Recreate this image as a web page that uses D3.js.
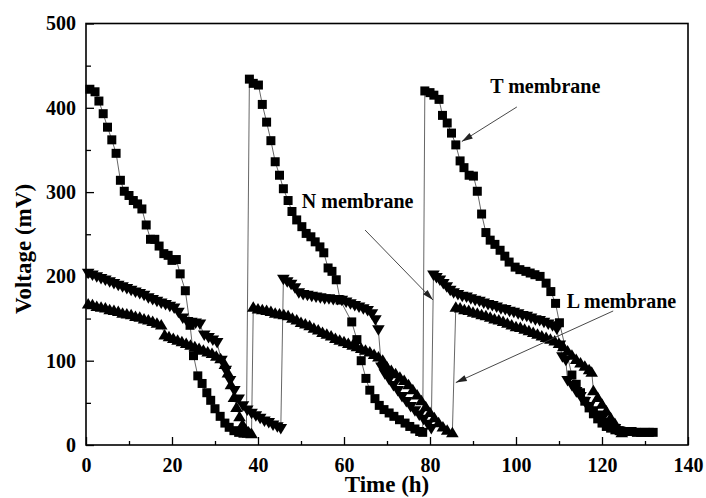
<!DOCTYPE html>
<html>
<head>
<meta charset="utf-8">
<script src="https://cdnjs.cloudflare.com/ajax/libs/d3/7.8.5/d3.min.js"></script>
<style>
  body { margin: 0; background: #fff; }
  svg { display: block; }
  text { font-family: "Liberation Serif", "Times New Roman", serif; font-weight: bold; fill: #000; }
</style>
</head>
<body>
<svg id="chart" width="706" height="498"></svg>
<script>
'use strict';

// T membrane (squares)
var tTime = [0.9, 2.1, 3.0, 4.0, 5.0, 6.0, 7.0, 8.0, 8.9, 10.0, 11.0, 12.0, 13.0, 14.0, 15.0, 16.0, 17.0, 18.1, 19.1, 20.0,
  21.0, 21.9, 23.1, 24.2, 25.0, 26.0, 27.0, 28.1, 29.0, 30.0, 31.2, 32.3, 33.3, 34.4, 35.5, 36.5, 37.3,
  38.0, 38.9, 40.1, 41.0, 42.0, 43.0, 44.0, 45.0, 45.9, 47.0, 47.9, 49.0, 50.2, 51.2, 52.3, 53.3, 54.4, 55.3,
  56.3, 57.2, 58.2, 59.1, 61.8, 63.0, 64.0, 65.1, 66.0, 67.2, 68.2, 69.3, 70.5, 71.6, 72.9, 74.2, 75.3, 76.5, 77.6, 78.3,
  78.8, 80.0, 80.9, 82.1, 82.9, 84.0, 85.0, 86.0, 87.0, 87.9, 89.1, 90.1, 91.0, 92.0, 93.0, 94.0, 95.1, 96.3, 97.4, 98.4,
  99.8, 100.9, 102.3, 103.3, 104.4, 105.6, 107.0, 108.1, 109.2, 110.1, 113.0, 114.0, 115.0, 116.0, 117.0, 118.0, 119.0,
  120.0, 121.0, 122.0, 123.0, 124.0, 125.0, 126.0, 127.0, 128.0, 129.0, 130.0, 131.0, 131.9];
var tVolt = [422, 419, 408, 393, 377, 362, 346, 314, 301, 296, 290, 286, 280, 261, 244, 244, 236, 227, 225, 219,
  220, 203, 183, 142, 106, 82, 73, 62, 53, 43, 34, 26, 21, 17, 15, 14, 14,
  434, 429, 427, 404, 383, 361, 336, 320, 304, 290, 277, 267, 259, 251, 247, 241, 235, 228,
  210, 206, 196, 172, 146, 125, 100, 79, 65, 55, 47, 42, 38, 34, 30, 26, 22, 19, 16, 15,
  420, 418, 415, 410, 391, 382, 370, 356, 337, 329, 320, 319, 301, 274, 252, 243, 238, 231, 224, 217,
  211, 208, 206, 204, 202, 200, 192, 182, 168, 145, 83, 72, 62, 52, 44, 37, 31,
  26, 22, 20, 18, 17, 16, 16, 16, 15, 15, 15, 15, 15];

// N membrane (down triangles)
var nTime = [0.5, 1.5, 2.5, 3.5, 4.5, 5.5, 6.5, 7.5, 8.5, 9.5, 10.5, 11.5, 12.5, 13.5, 14.5, 15.5, 16.5, 17.5, 18.5, 19.5,
  20.5, 21.5, 22.5, 23.5, 24.5, 25.5, 26.5, 27.5, 28.5, 29.5, 30.5, 31.5, 32.5, 33.5, 34.5, 35.5, 36.5, 37.5, 38.5, 39.5,
  40.5, 41.5, 42.5, 43.5, 44.5, 45.3,
  45.9, 46.8, 47.7, 48.6, 49.5, 50.5, 51.5, 52.5, 53.5, 54.5, 55.5, 56.5, 57.5, 58.5, 59.5, 60.5, 61.5, 62.5, 63.5, 64.5,
  65.5, 66.5, 67.3, 68.0, 68.7, 69.5, 70.5, 71.5, 72.5, 73.5, 74.5, 75.5, 76.5, 77.5, 78.5, 79.5, 80.3,
  80.8, 81.5, 82.3, 83.1, 83.9, 84.7, 85.5, 86.5, 87.5, 88.5, 89.5, 90.5, 91.5, 92.5, 93.5, 94.5, 95.5, 96.5, 97.5, 98.5,
  99.5, 100.5, 101.5, 102.5, 103.5, 104.5, 105.5, 106.5, 107.5, 108.5, 109.5, 110.2, 110.8, 111.6, 112.0, 113.0, 114.0,
  115.0, 116.0, 117.0, 118.0, 119.0, 120.0, 121.0, 122.0, 123.0, 124.0];
var nVolt = [203, 201, 199, 197, 195, 193, 191, 189, 187, 185, 183, 181, 179, 177, 174, 172, 170, 168, 166, 164,
  162, 157, 150, 146, 145, 144, 143, 130, 127, 124, 121, 100, 88, 76, 64, 54, 46, 41, 37, 34,
  31, 28, 26, 23, 21, 19,
  196, 193, 190, 186, 180, 178, 177, 176, 175, 174, 173, 173, 172, 172, 171, 169, 167, 165, 163, 161,
  159, 155, 148, 136, 92, 84, 77, 70, 64, 57, 51, 45, 40, 35, 30, 24, 19,
  201, 198, 195, 191, 187, 183, 180, 178, 176, 175, 173, 171, 170, 168, 166, 165, 163, 161, 160, 158,
  157, 155, 153, 152, 150, 148, 147, 145, 143, 141, 137, 118, 104, 100, 76, 70, 63,
  57, 51, 45, 40, 35, 30, 26, 22, 19, 16];

// L membrane (up triangles)
var lTime = [0.5, 1.5, 2.5, 3.5, 4.5, 5.5, 6.5, 7.5, 8.5, 9.5, 10.5, 11.5, 12.5, 13.5, 14.5, 15.5, 16.5, 17.5, 18.3, 19.3,
  20.3, 21.3, 22.3, 23.3, 24.3, 25.3, 26.3, 27.3, 28.3, 29.3, 30.3, 31.3, 32.3, 33.0, 33.7, 34.4, 35.0, 35.7, 36.4, 37.1,
  37.8, 38.5,
  38.9, 40, 41, 42, 43, 44, 45, 46, 47, 48, 49, 50, 51, 52, 53, 54, 55, 56, 57, 58, 59, 60, 61, 62, 63, 64, 65, 66, 67,
  68, 69, 70, 71, 72, 73, 74, 75, 76, 77, 78, 79, 80, 81, 82, 83, 84, 85.2,
  86, 87, 88, 89, 90, 91, 92, 93, 94, 95, 96, 97, 98, 99, 100, 101, 102, 103, 104, 105, 106, 107, 108, 109, 110, 111,
  112, 113, 114, 115, 116, 117, 117.6, 118, 119, 120, 121, 122, 123, 124, 124.6];
var lVolt = [168, 167, 165, 164, 163, 161, 160, 159, 157, 156, 155, 153, 152, 150, 149, 147, 145, 143, 131, 129,
  127, 125, 123, 121, 119, 117, 115, 113, 111, 109, 106, 103, 96, 86, 72, 57, 45, 34, 25, 19,
  16, 14,
  164, 162, 161, 160, 159, 157, 156, 155, 154, 151, 149, 146, 144, 142, 139, 137, 134, 132, 130, 127, 125, 123, 121, 119, 117,
  115, 113, 111, 108, 105, 101, 93, 89, 85, 81, 77, 72, 66, 60, 53, 46, 39, 33, 27, 22, 18, 15,
  164, 163, 161, 160, 158, 157, 155, 154, 152, 150, 149, 147, 145, 143, 141, 140, 138, 136, 134, 132, 130, 128, 126, 124,
  121, 117, 112, 107, 102, 98, 94, 90, 87, 65, 57, 49, 41, 33, 26, 19, 15];

var xTicks = [0, 20, 40, 60, 80, 100, 120, 140];
var yTicks = [0, 100, 200, 300, 400, 500];

var labelNames = ['T membrane', 'N membrane', 'L membrane'];
var labelTime = [94.0, 50.2, 111.8];
var labelVolt = [417, 281, 162];
var arrowFromTime = [100.2, 64.9, 122.6];
var arrowFromVolt = [401, 255, 159];
var arrowToTime = [87.4, 80.7, 86.0];
var arrowToVolt = [360, 172, 74];

var margin = { top: 23.5, right: 18, bottom: 53, left: 86 };
var width = 706 - margin.left - margin.right;
var height = 498 - margin.top - margin.bottom;

var svg = d3.select('#chart');
var g = svg.append('g')
  .attr('transform', 'translate(' + margin.left + ',' + margin.top + ')');

var x = d3.scaleLinear().domain([0, 140]).range([0, width]);
var y = d3.scaleLinear().domain([0, 500]).range([height, 0]);

// arrowhead
svg.append('defs').append('marker')
  .attr('id', 'arrowHead')
  .attr('markerUnits', 'userSpaceOnUse')
  .attr('viewBox', '-12 -5 14 10')
  .attr('markerWidth', 14)
  .attr('markerHeight', 10)
  .attr('refX', 0)
  .attr('refY', 0)
  .attr('orient', 'auto')
  .append('path')
  .attr('d', 'M0,0L-11,-3.2L-11,3.2Z')
  .attr('fill', '#222');

// minor + major ticks, pointing inward
var minorX = g.append('g').attr('transform', 'translate(0,' + height + ')')
  .call(d3.axisBottom(x).tickValues(d3.range(10, 140, 20)).tickSize(-4).tickFormat(''));
var minorY = g.append('g')
  .call(d3.axisLeft(y).tickValues(d3.range(50, 500, 100)).tickSize(-5).tickFormat(''));

var xAxis = g.append('g').attr('transform', 'translate(0,' + height + ')')
  .call(d3.axisBottom(x).tickValues(xTicks).tickSize(-8).tickPadding(13));
var yAxis = g.append('g')
  .call(d3.axisLeft(y).tickValues(yTicks).tickSize(-8).tickPadding(10));

[minorX, minorY, xAxis, yAxis].forEach(function(a) {
  a.select('.domain').remove();
  a.selectAll('line').attr('stroke', '#000').attr('stroke-width', 1.3);
});
[xAxis, yAxis].forEach(function(a) {
  a.selectAll('text')
    .style('font-family', '"Liberation Serif", "Times New Roman", serif')
    .style('font-weight', 'bold')
    .style('font-size', '20px')
    .attr('fill', '#000');
});

// frame
g.append('rect')
  .attr('x', 0).attr('y', 0)
  .attr('width', width).attr('height', height)
  .attr('fill', 'none')
  .attr('stroke', '#000')
  .attr('stroke-width', 1.6);

// series
var series = [
  { name: 'T', time: tTime, volt: tVolt, shape: 'M-4.5,-4.5h9v9h-9Z' },
  { name: 'N', time: nTime, volt: nVolt, shape: 'M0,5.5L6.3,-5L-6.3,-5Z' },
  { name: 'L', time: lTime, volt: lVolt, shape: 'M0,-5.5L6.3,5L-6.3,5Z' }
];

var line = d3.line()
  .x(function(d) { return x(d[0]); })
  .y(function(d) { return y(d[1]); });

series.forEach(function(s) {
  s.points = s.time.map(function(t, i) { return [t, s.volt[i]]; });
  g.append('path')
    .datum(s.points)
    .attr('d', line)
    .attr('fill', 'none')
    .attr('stroke', '#555')
    .attr('stroke-width', 0.9);
});

series.forEach(function(s) {
  g.append('g')
    .selectAll('path')
    .data(s.points)
    .enter()
    .append('path')
    .attr('d', s.shape)
    .attr('transform', function(d) { return 'translate(' + x(d[0]) + ',' + y(d[1]) + ')'; })
    .attr('fill', '#000');
});

// annotations
labelNames.forEach(function(name, i) {
  g.append('line')
    .attr('x1', x(arrowFromTime[i])).attr('y1', y(arrowFromVolt[i]))
    .attr('x2', x(arrowToTime[i])).attr('y2', y(arrowToVolt[i]))
    .attr('stroke', '#333')
    .attr('stroke-width', 0.9)
    .attr('marker-end', 'url(#arrowHead)');
  g.append('text')
    .attr('x', x(labelTime[i]))
    .attr('y', y(labelVolt[i]))
    .style('font-size', '20px')
    .text(name);
});

// axis titles
g.append('text')
  .attr('x', width / 2)
  .attr('y', height + 47)
  .attr('text-anchor', 'middle')
  .style('font-size', '23px')
  .text('Time (h)');

g.append('text')
  .attr('transform', 'translate(' + (31 - margin.left) + ',' + (249 - margin.top) + ') rotate(-90)')
  .attr('text-anchor', 'middle')
  .style('font-size', '23px')
  .text('Voltage (mV)');
</script>
</body>
</html>
